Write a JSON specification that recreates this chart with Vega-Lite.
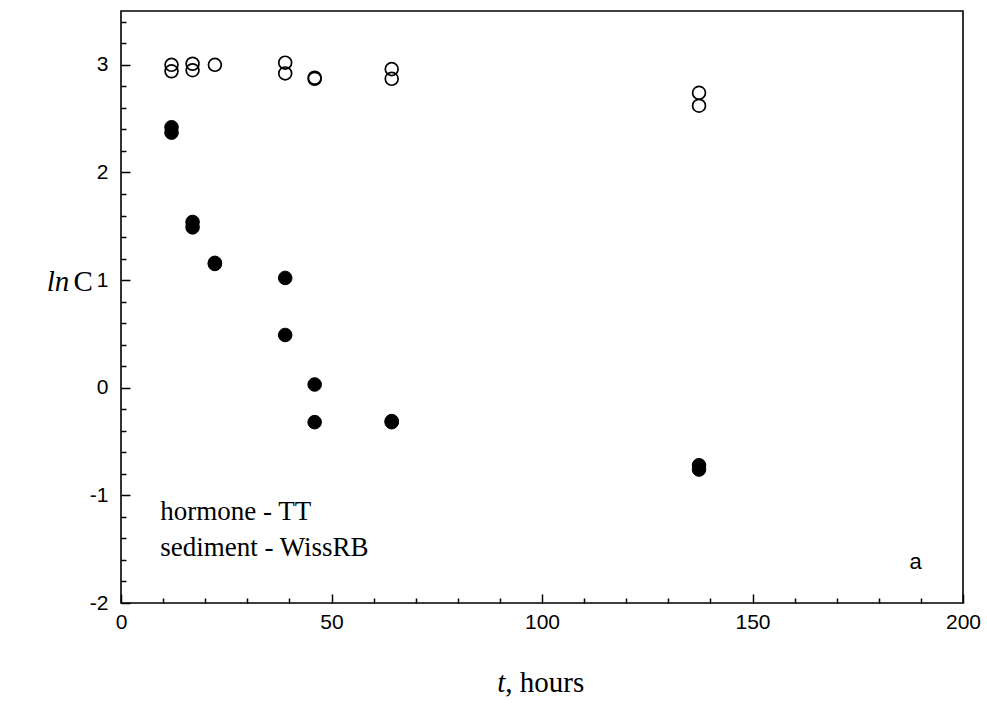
{
  "$schema": "https://vega.github.io/schema/vega-lite/v6.json",
  "width": 842,
  "height": 592,
  "autosize": {"type": "none"},
  "padding": {"left": 121, "top": 11, "right": 24, "bottom": 120},
  "background": "white",
  "config": {
    "view": {"stroke": "black", "strokeWidth": 1.6},
    "axis": {
      "domain": false,
      "grid": false,
      "labelFont": "Liberation Sans",
      "labelFontSize": 21,
      "labelColor": "black",
      "tickColor": "black",
      "tickWidth": 1.5,
      "labelFlush": false,
      "labelOverlap": false,
      "title": null
    }
  },
  "datasets": {
    "pts": [
      {"t": 12, "lnC": 3.0, "series": "open"},
      {"t": 12, "lnC": 2.94, "series": "open"},
      {"t": 17, "lnC": 3.01, "series": "open"},
      {"t": 17, "lnC": 2.95, "series": "open"},
      {"t": 22.3, "lnC": 3.0, "series": "open"},
      {"t": 39, "lnC": 3.02, "series": "open"},
      {"t": 39, "lnC": 2.92, "series": "open"},
      {"t": 46, "lnC": 2.87, "series": "open"},
      {"t": 46, "lnC": 2.88, "series": "open"},
      {"t": 64.3, "lnC": 2.96, "series": "open"},
      {"t": 64.3, "lnC": 2.87, "series": "open"},
      {"t": 137.3, "lnC": 2.74, "series": "open"},
      {"t": 137.3, "lnC": 2.62, "series": "open"},
      {"t": 12, "lnC": 2.42, "series": "filled"},
      {"t": 12, "lnC": 2.37, "series": "filled"},
      {"t": 17, "lnC": 1.54, "series": "filled"},
      {"t": 17, "lnC": 1.49, "series": "filled"},
      {"t": 22.3, "lnC": 1.16, "series": "filled"},
      {"t": 22.3, "lnC": 1.15, "series": "filled"},
      {"t": 39, "lnC": 1.02, "series": "filled"},
      {"t": 39, "lnC": 0.49, "series": "filled"},
      {"t": 46, "lnC": 0.03, "series": "filled"},
      {"t": 46, "lnC": -0.32, "series": "filled"},
      {"t": 64.3, "lnC": -0.31, "series": "filled"},
      {"t": 64.3, "lnC": -0.32, "series": "filled"},
      {"t": 137.3, "lnC": -0.72, "series": "filled"},
      {"t": 137.3, "lnC": -0.76, "series": "filled"}
    ],
    "notes": [
      {"label": "hormone - TT", "t": 9.3, "lnC": -1.23},
      {"label": "sediment - WissRB", "t": 9.3, "lnC": -1.565}
    ],
    "corner": [
      {"label": "a", "t": 187.3, "lnC": -1.68}
    ],
    "ytitleItalic": [{"label": "ln", "t": -12.3, "lnC": 0.9}],
    "ytitleRoman": [{"label": "C", "t": -11.3, "lnC": 0.9}],
    "xtitleItalic": [{"label": "t", "t": 91.3, "lnC": -2.83}],
    "xtitleRoman": [{"label": ", hours", "t": 91.3, "lnC": -2.83}]
  },
  "resolve": {"axis": {"x": "independent", "y": "independent"}},
  "layer": [
    {
      "data": {"name": "pts"},
      "transform": [{"filter": "datum.series == 'open'"}],
      "mark": {"type": "point", "shape": "circle", "filled": false, "stroke": "black", "strokeWidth": 1.7, "size": 165, "opacity": 1},
      "encoding": {
        "x": {"field": "t", "type": "quantitative",
              "scale": {"domain": [0, 200], "nice": false, "zero": false},
              "axis": {"orient": "bottom", "values": [0, 50, 100, 150, 200], "tickSize": -9, "labelPadding": 17, "labelExpr": "toString(datum.value)"}},
        "y": {"field": "lnC", "type": "quantitative",
              "scale": {"domain": [-2, 3.5], "nice": false, "zero": false},
              "axis": {"orient": "left", "values": [-2, -1, 0, 1, 2, 3], "tickSize": -9, "labelPadding": 22, "labelExpr": "toString(datum.value)"}}
      }
    },
    {
      "data": {"name": "pts"},
      "transform": [{"filter": "datum.series == 'filled'"}],
      "mark": {"type": "point", "shape": "circle", "filled": true, "fill": "black", "stroke": "black", "strokeWidth": 1, "size": 185, "opacity": 1},
      "encoding": {
        "x": {"field": "t", "type": "quantitative", "axis": null},
        "y": {"field": "lnC", "type": "quantitative", "axis": null}
      }
    },
    {
      "data": {"name": "pts"},
      "mark": {"type": "point", "opacity": 0},
      "encoding": {
        "x": {"field": "t", "type": "quantitative",
              "axis": {"orient": "bottom", "values": [10, 20, 30, 40, 60, 70, 80, 90, 110, 120, 130, 140, 160, 170, 180, 190], "tickSize": -5, "labels": false}},
        "y": {"field": "lnC", "type": "quantitative",
              "axis": {"orient": "left", "values": [-1.8, -1.6, -1.4, -1.2, -0.8, -0.6, -0.4, -0.2, 0.2, 0.4, 0.6, 0.8, 1.2, 1.4, 1.6, 1.8, 2.2, 2.4, 2.6, 2.8, 3.2, 3.4], "tickSize": -5, "labels": false}}
      }
    },
    {
      "data": {"name": "notes"},
      "mark": {"type": "text", "font": "Liberation Serif", "fontSize": 27, "align": "left", "baseline": "alphabetic", "color": "black"},
      "encoding": {
        "x": {"field": "t", "type": "quantitative", "axis": null},
        "y": {"field": "lnC", "type": "quantitative", "axis": null},
        "text": {"field": "label"}
      }
    },
    {
      "data": {"name": "corner"},
      "mark": {"type": "text", "font": "Liberation Sans", "fontSize": 22, "align": "left", "baseline": "alphabetic", "color": "black"},
      "encoding": {
        "x": {"field": "t", "type": "quantitative", "axis": null},
        "y": {"field": "lnC", "type": "quantitative", "axis": null},
        "text": {"field": "label"}
      }
    },
    {
      "data": {"name": "ytitleItalic"},
      "mark": {"type": "text", "font": "Liberation Serif", "fontSize": 29, "fontStyle": "italic", "align": "right", "baseline": "alphabetic", "color": "black"},
      "encoding": {
        "x": {"field": "t", "type": "quantitative", "axis": null},
        "y": {"field": "lnC", "type": "quantitative", "axis": null},
        "text": {"field": "label"}
      }
    },
    {
      "data": {"name": "ytitleRoman"},
      "mark": {"type": "text", "font": "Liberation Serif", "fontSize": 29, "align": "left", "baseline": "alphabetic", "color": "black"},
      "encoding": {
        "x": {"field": "t", "type": "quantitative", "axis": null},
        "y": {"field": "lnC", "type": "quantitative", "axis": null},
        "text": {"field": "label"}
      }
    },
    {
      "data": {"name": "xtitleItalic"},
      "mark": {"type": "text", "font": "Liberation Serif", "fontSize": 29, "fontStyle": "italic", "align": "right", "baseline": "alphabetic", "color": "black"},
      "encoding": {
        "x": {"field": "t", "type": "quantitative", "axis": null},
        "y": {"field": "lnC", "type": "quantitative", "axis": null},
        "text": {"field": "label"}
      }
    },
    {
      "data": {"name": "xtitleRoman"},
      "mark": {"type": "text", "font": "Liberation Serif", "fontSize": 29, "align": "left", "baseline": "alphabetic", "color": "black"},
      "encoding": {
        "x": {"field": "t", "type": "quantitative", "axis": null},
        "y": {"field": "lnC", "type": "quantitative", "axis": null},
        "text": {"field": "label"}
      }
    }
  ]
}
